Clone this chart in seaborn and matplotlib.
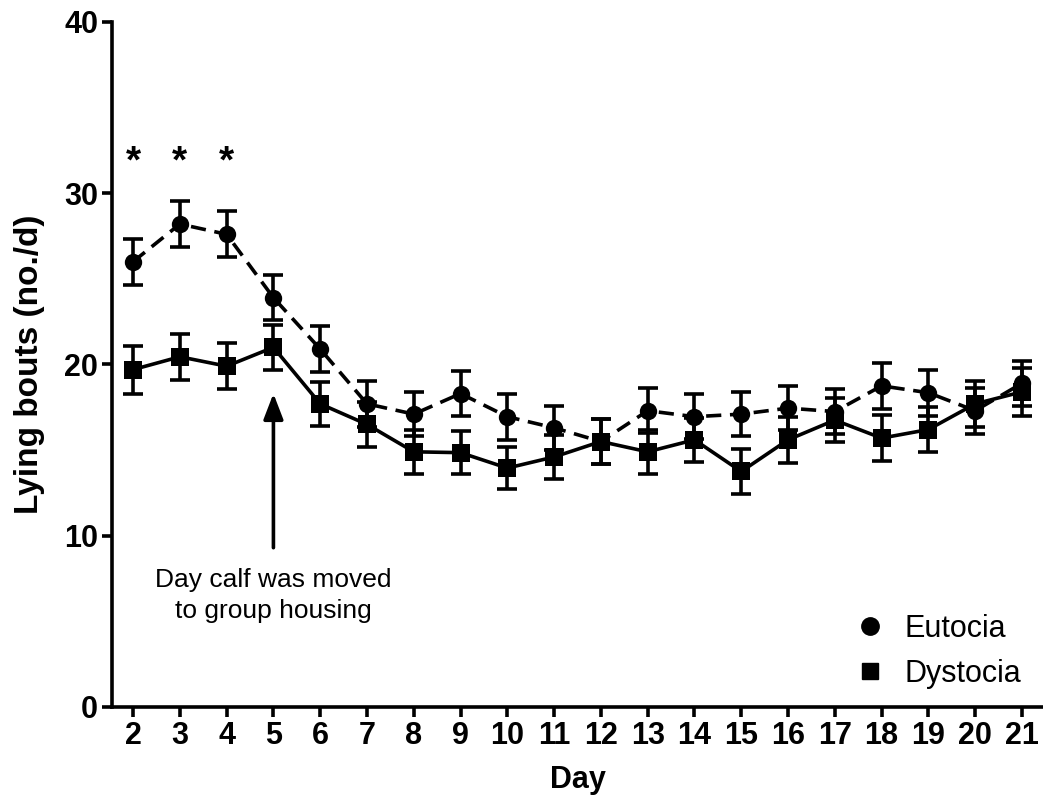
import matplotlib
matplotlib.use("Agg")
import matplotlib.pyplot as plt
import seaborn as sns
import pandas as pd
import numpy as np
from matplotlib import font_manager
from matplotlib.lines import Line2D

days = list(range(2, 22))
eutocia_mean = [26.0, 28.2, 27.6, 23.9, 20.9, 17.7, 17.1, 18.3, 16.95, 16.3,
                15.5, 17.3, 16.95, 17.1, 17.45, 17.25, 18.75, 18.35, 17.3, 18.9]
eutocia_sem = [1.35, 1.35, 1.35, 1.3, 1.35, 1.35, 1.3, 1.3, 1.35, 1.3,
               1.3, 1.3, 1.3, 1.3, 1.3, 1.3, 1.35, 1.35, 1.35, 1.3]
dystocia_mean = [19.7, 20.45, 19.9, 21.0, 17.7, 16.5, 14.9, 14.85, 13.95, 14.6,
                 15.5, 14.9, 15.6, 13.75, 15.6, 16.75, 15.7, 16.2, 17.7, 18.4]
dystocia_sem = [1.4, 1.35, 1.35, 1.3, 1.3, 1.3, 1.3, 1.25, 1.25, 1.3,
                1.3, 1.3, 1.3, 1.3, 1.35, 1.3, 1.35, 1.3, 1.35, 1.4]
star_days = [2, 3, 4]
star_level = 31.8
arrow_day = 5
annotation = "Day calf was moved\nto group housing"

sns.set_theme(style="ticks")
names = {f.name for f in font_manager.fontManager.ttflist}
narrow = "Liberation Sans Narrow" if "Liberation Sans Narrow" in names else "Liberation Sans"
plt.rcParams["font.family"] = ["Liberation Sans", "DejaVu Sans"]
for k in ["text.color", "axes.labelcolor", "xtick.color", "ytick.color", "axes.edgecolor"]:
    plt.rcParams[k] = "black"

df = pd.DataFrame({
    "Day": days * 2,
    "Lying": eutocia_mean + dystocia_mean,
    "Group": ["Eutocia"] * len(days) + ["Dystocia"] * len(days),
})

fig = plt.figure(figsize=(10.43, 8.02), dpi=100)
ax = fig.add_axes([0.1074, 0.1185, 0.8926, 0.8541])

lw = 2.6
ax.errorbar(days, eutocia_mean, yerr=eutocia_sem, fmt="none", ecolor="black",
            elinewidth=lw, capsize=7, capthick=lw, zorder=2)
ax.errorbar(days, dystocia_mean, yerr=dystocia_sem, fmt="none", ecolor="black",
            elinewidth=lw, capsize=7, capthick=lw, zorder=2)

sns.lineplot(data=df, x="Day", y="Lying", hue="Group", style="Group",
             palette={"Eutocia": "black", "Dystocia": "black"},
             markers={"Eutocia": "o", "Dystocia": "s"},
             dashes={"Eutocia": (4.2, 2.4), "Dystocia": ""},
             markersize=12.5, markeredgewidth=0, linewidth=lw, ax=ax,
             legend=False, zorder=3)

ax.set_xlim(1.55, 21.45)
ax.set_ylim(0, 40)
ax.set_xticks(days)
ax.set_yticks([0, 10, 20, 30, 40])
for lab in ax.get_xticklabels() + ax.get_yticklabels():
    lab.set_fontweight("bold")
    lab.set_fontsize(22)
ax.tick_params(axis="both", length=7, width=lw, color="black", pad=3)
for s in ["left", "bottom"]:
    ax.spines[s].set_linewidth(lw)
    ax.spines[s].set_color("black")
sns.despine(ax=ax)

ax.set_xlabel("Day", fontsize=22, fontweight="bold", labelpad=10)
ax.set_ylabel("Lying bouts (no./d)", fontsize=24, fontweight="bold",
              family=[narrow, "DejaVu Sans"], labelpad=14)

for d in star_days:
    ax.text(d, star_level, "*", ha="center", va="center", fontsize=28,
            fontweight="bold")

ax.annotate("", xy=(arrow_day, 18.3), xytext=(arrow_day, 9.3),
            arrowprops=dict(arrowstyle="-|>,head_length=1.3,head_width=0.5",
                            color="black", lw=2.6, shrinkA=0, shrinkB=0))
ax.text(arrow_day, 6.5, annotation, ha="center", va="center", fontsize=19,
        linespacing=1.4)

handles = [Line2D([], [], marker="o", color="black", linestyle="none", markersize=12.5),
           Line2D([], [], marker="s", color="black", linestyle="none", markersize=11.5)]
ax.legend(handles, ["Eutocia", "Dystocia"], loc="lower right",
          bbox_to_anchor=(1.0, -0.005), frameon=False, fontsize=22,
          handletextpad=0.15, labelspacing=0.5, borderaxespad=0.3)

fig.savefig("out.png", dpi=100)
